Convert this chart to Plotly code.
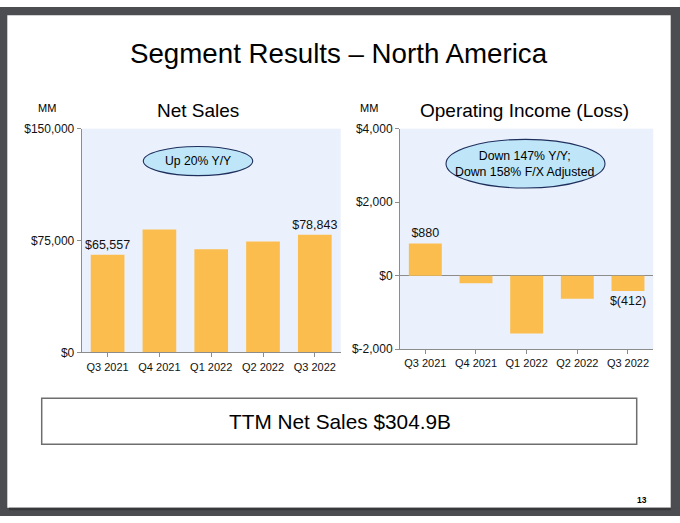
import plotly.graph_objects as go
from plotly.subplots import make_subplots

W, H = 680, 523

# ---- data ----
quarters = ["Q3 2021", "Q4 2021", "Q1 2022", "Q2 2022", "Q3 2022"]
net_sales = [65557, 82360, 69244, 74430, 78843]
net_sales_labels = ["$65,557", "", "", "", "$78,843"]
op_income = [880, -206, -1568, -627, -412]
op_income_labels = ["$880", "", "", "", "$(412)"]
ns_tickvals = [0, 75000, 150000]
ns_ticktext = ["$0", "$75,000", "$150,000"]
oi_tickvals = [-2000, 0, 2000, 4000]
oi_ticktext = ["$-2,000", "$0", "$2,000", "$4,000"]

FONT = "Liberation Sans, Arial, sans-serif"
BAR = "#FBBE4E"
PLOTBG = "#EAF0FC"
AXIS = "#8C8C8C"
FRAME = "#4C4D50"


def px(x):
    return x / W


def py(y):
    return 1 - y / H


fig = make_subplots(rows=1, cols=2)

fig.add_trace(go.Bar(x=quarters, y=net_sales, text=net_sales_labels, textposition="outside",
                     marker=dict(color=BAR, line=dict(width=0)), width=0.65, constraintext="none",
                     textfont=dict(size=12.5, color="#111", family=FONT), cliponaxis=False,
                     hoverinfo="x+y"), row=1, col=1)
fig.add_trace(go.Bar(x=quarters, y=op_income, text=op_income_labels, textposition="outside",
                     marker=dict(color=BAR, line=dict(width=0)), width=0.65, constraintext="none",
                     textfont=dict(size=12.5, color="#111", family=FONT), cliponaxis=False,
                     hoverinfo="x+y"), row=1, col=2)

axis_common = dict(showline=True, linecolor=AXIS, linewidth=1, ticks="outside", ticklen=4,
                   tickcolor=AXIS, showgrid=False, tickfont=dict(size=12, color="#111", family=FONT))

fig.update_xaxes(**axis_common)
fig.update_yaxes(**axis_common)

fig.update_layout(
    xaxis=dict(domain=[px(81.7), px(340.7)], tickfont=dict(size=11)),
    xaxis2=dict(domain=[px(400), px(653.3)], tickfont=dict(size=11)),
    yaxis=dict(domain=[py(355), py(125)], range=[0, 150000], tickvals=ns_tickvals,
               ticktext=ns_ticktext, zeroline=False),
    yaxis2=dict(domain=[py(351.7), py(125)], range=[-2000, 4000], tickvals=oi_tickvals,
                ticktext=oi_ticktext, zeroline=True, zerolinecolor=AXIS, zerolinewidth=1),
)

shapes = []
# gray viewer frame around the page
for (x0, y0, x1, y1) in [(0, 0, 680, 8.5), (0, 0, 7.3, 523), (670.7, 0, 680, 523), (0, 514.5, 680, 523)]:
    shapes.append(dict(type="rect", xref="paper", yref="paper", x0=px(x0), x1=px(x1), y0=py(y1), y1=py(y0),
                       fillcolor=FRAME, line=dict(width=0), layer="above"))
shapes.append(dict(type="rect", xref="paper", yref="paper", x0=px(9), x1=px(670.7), y0=py(517), y1=py(514.5),
                   fillcolor="#38393b", line=dict(width=0), layer="above"))
# ellipses
shapes.append(dict(type="circle", xref="paper", yref="paper", x0=px(143.3), x1=px(252.7), y0=py(173.3), y1=py(143.3),
                   fillcolor="#BEE5F8", line=dict(color="#1F2F5C", width=1.1), layer="above"))
shapes.append(dict(type="circle", xref="paper", yref="paper", x0=px(446), x1=px(605), y0=py(186), y1=py(136),
                   fillcolor="#BEE5F8", line=dict(color="#1F2F5C", width=1.1), layer="above"))
# TTM box
shapes.append(dict(type="rect", xref="paper", yref="paper", x0=px(41.7), x1=px(636.7), y0=py(449.3), y1=py(402),
                   fillcolor="rgba(0,0,0,0)", line=dict(color="#6E6E6E", width=1.5)))

annotations = [
    dict(text="Segment Results – North America", x=px(339), y=py(48), font=dict(size=27.7)),
    dict(text="Net Sales", x=px(198), y=py(106), font=dict(size=19)),
    dict(text="Operating Income (Loss)", x=px(524), y=py(106), font=dict(size=19)),
    dict(text="MM", x=px(47), y=py(104), font=dict(size=11)),
    dict(text="MM", x=px(369), y=py(104), font=dict(size=11)),
    dict(text="Up 20% Y/Y", x=px(198), y=py(158), font=dict(size=12.2)),
    dict(text="Down 147% Y/Y;<br>Down 158% F/X Adjusted", x=px(525), y=py(161), font=dict(size=12.3)),
    dict(text="TTM Net Sales $304.9B", x=px(339.5), y=py(425.5), font=dict(size=20.8)),
    dict(text="<b>13</b>", x=px(642), y=py(507), font=dict(size=8.5)),
]
for a in annotations:
    a.update(xref="paper", yref="paper", showarrow=False, xanchor="center", yanchor="middle")
    a["font"].update(family=FONT, color="#000")

fig.update_layout(
    width=W, height=H, margin=dict(l=0, r=0, t=0, b=0),
    paper_bgcolor="white", plot_bgcolor=PLOTBG,
    showlegend=False, shapes=shapes, annotations=annotations,
    font=dict(family=FONT, color="#111"), bargap=0.35,
)

fig.write_html("out.html", config={"displayModeBar": False},
               post_script="document.body.style.margin='0';document.body.style.padding='0';"
                           "document.body.style.overflow='hidden';")
